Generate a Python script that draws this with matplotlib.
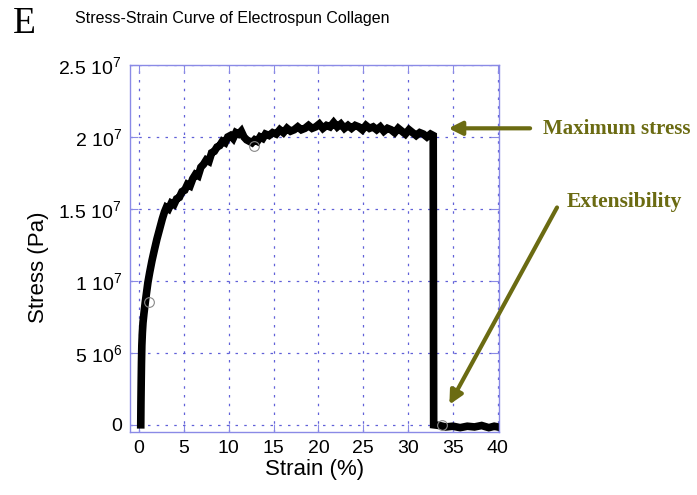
import numpy as np
import matplotlib.pyplot as plt

plt.rcParams['font.family'] = ['Liberation Sans', 'DejaVu Sans']
plt.rcParams['mathtext.default'] = 'regular'

# strain (%) and stress (MPa, scaled to Pa below)
strain = [0.2, 0.22, 0.25, 0.28, 0.32, 0.38, 0.45, 0.55, 0.7, 0.85, 1.0, 1.2, 1.45, 1.7, 2.0,
          2.3, 2.6, 2.85, 3.05, 3.3, 3.6, 3.9, 4.2, 4.5, 4.8, 5.1, 5.4, 5.7, 6.0, 6.3,
          6.6, 6.9, 7.2, 7.5, 7.8, 8.1, 8.4, 8.7, 9.0, 9.3, 9.6, 9.9, 10.2, 10.5, 10.8,
          11.1, 11.4, 11.7, 12.0, 12.3, 12.6, 12.9, 13.2, 13.5, 13.8, 14.1, 14.5, 14.9,
          15.3, 15.7, 16.1, 16.5, 16.9, 17.3, 17.7, 18.1, 18.5, 18.9, 19.3, 19.7, 20.1,
          20.5, 20.9, 21.3, 21.7, 22.1, 22.5, 22.9, 23.3, 23.7, 24.1, 24.5, 24.9, 25.3,
          25.7, 26.1, 26.5, 26.9, 27.3, 27.7, 28.1, 28.5, 28.9, 29.3, 29.7, 30.1, 30.5,
          30.9, 31.3, 31.7, 32.1, 32.5, 32.8, 32.85, 33.5, 34.2, 35.0, 35.8, 36.6, 37.4,
          38.2, 39.0, 39.6, 40.0]
stress = [0.0, 1.5, 3.0, 4.3, 5.5, 6.4, 7.1, 7.7, 8.5, 9.2, 9.9, 10.6, 11.4, 12.1, 12.9,
          13.6, 14.3, 14.8, 15.1, 15.0, 15.4, 15.3, 15.7, 15.8, 16.2, 16.3, 16.7, 16.6,
          17.1, 17.4, 17.3, 17.9, 18.1, 18.4, 18.3, 18.9, 19.0, 19.3, 19.4, 19.7, 19.6,
          20.0, 20.1, 19.9, 20.3, 20.2, 20.4, 20.0, 19.8, 19.7, 19.6, 19.8, 19.7, 20.0,
          19.9, 20.2, 20.1, 20.3, 20.2, 20.5, 20.3, 20.6, 20.4, 20.5, 20.7, 20.5, 20.6,
          20.8, 20.6, 20.7, 20.9, 20.6, 20.8, 20.7, 21.0, 20.7, 20.9, 20.6, 20.8, 20.6,
          20.8, 20.7, 20.5, 20.8, 20.6, 20.7, 20.5, 20.7, 20.4, 20.6, 20.5, 20.3, 20.6,
          20.4, 20.2, 20.5, 20.3, 20.1, 20.3, 20.2, 20.0, 20.2, 20.1, 0.0, -0.05, -0.15,
          -0.1, -0.2, -0.1, -0.15, -0.05, -0.2, -0.1, -0.15]

circle_x = [1.1, 12.8, 33.8]
circle_y = [8.5, 19.4, 0.0]

xticks = [0, 5, 10, 15, 20, 25, 30, 35, 40]
yticks = [0, 5e6, 1e7, 1.5e7, 2e7, 2.5e7]
ylabels = ['0', r'5 10$^6$', r'1 10$^7$', r'1.5 10$^7$', r'2 10$^7$', r'2.5 10$^7$']

frame = '#8a8ae6'
grid_c = '#6060d8'
olive = '#6b6b12'

fig = plt.figure(figsize=(6.97, 4.95), dpi=100)
ax = fig.add_axes([0.1865, 0.1273, 0.529, 0.7414])

ax.plot(strain, np.array(stress) * 1e6, color='black', lw=5.5, solid_joinstyle='miter')
ax.plot(circle_x, np.array(circle_y) * 1e6, linestyle='none', marker='o', ms=7,
        mfc='none', mec='#888888', mew=0.8)

ax.set_xlim(-1, 40.1)
ax.set_ylim(-5e5, 2.5e7)
ax.set_xticks(xticks)
ax.set_yticks(yticks)
ax.set_yticklabels(ylabels)
ax.tick_params(direction='in', length=6, color=frame, labelsize=14, top=True, right=True,
               pad=6)
for sp in ax.spines.values():
    sp.set_color(frame)
    sp.set_linewidth(1.0)
ax.grid(True, linestyle=(0, (2, 5)), color=grid_c, lw=0.9)

ax.set_xlabel('Strain (%)', fontsize=16, labelpad=1)
ax.set_ylabel('Stress (Pa)', fontsize=16)
ax.yaxis.set_label_coords(-0.22, 0.45)

fig.text(0.108, 0.962, 'Stress-Strain Curve of Electrospun Collagen', fontsize=11.5,
         va='center', ha='left')
fig.text(0.019, 0.953, 'E', fontsize=27, family='Liberation Serif', va='center', ha='left')

# annotations
arrow = dict(arrowstyle='-|>', color=olive, lw=3, mutation_scale=20, shrinkA=0, shrinkB=0)
ax.annotate('', xy=(34.5, 20.6e6), xytext=(43.6, 20.6e6), annotation_clip=False,
            arrowprops=arrow)
ax.text(45.0, 20.55e6, 'Maximum stress', fontsize=15, family='Liberation Serif',
        weight='bold', color=olive, va='center', ha='left', clip_on=False)
ax.annotate('', xy=(34.6, 1.4e6), xytext=(46.6, 15.1e6), annotation_clip=False,
            arrowprops=arrow)
ax.text(47.7, 15.45e6, 'Extensibility', fontsize=15.5, family='Liberation Serif',
        weight='bold', color=olive, va='center', ha='left', clip_on=False)

fig.savefig('out.png', dpi=100)
